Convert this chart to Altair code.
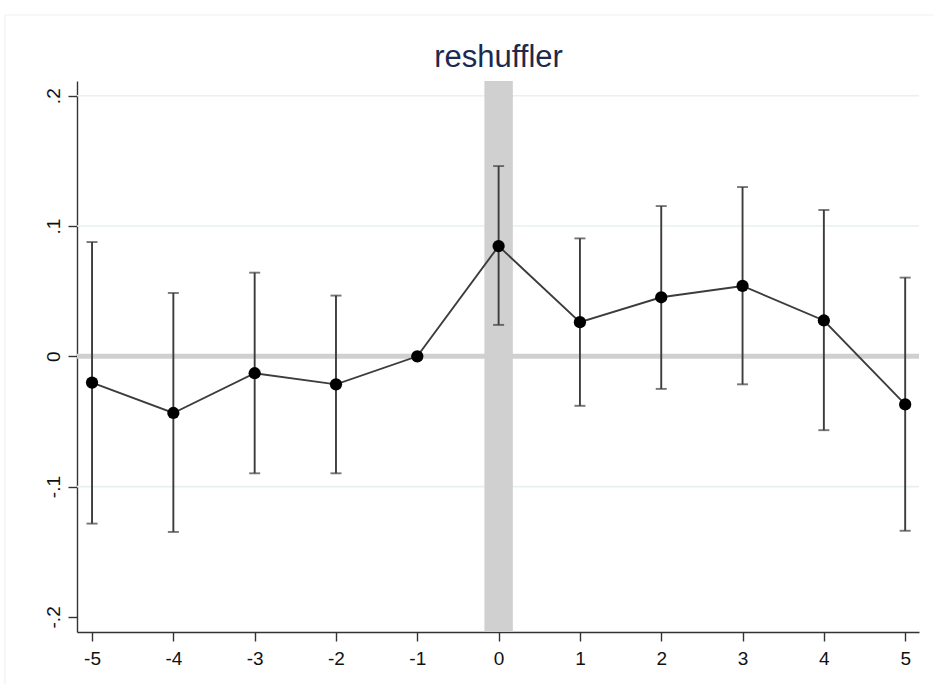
import altair as alt
import pandas as pd

# Event-time coefficients with 95% confidence intervals
event_time = [-5, -4, -3, -2, -1, 0, 1, 2, 3, 4, 5]
coef = [-0.0202, -0.0435, -0.0130, -0.0215, 0.0, 0.0846, 0.0262, 0.0453, 0.0540, 0.0275, -0.0369]
ci_low = [-0.1284, -0.1348, -0.0898, -0.0898, None, 0.0241, -0.0380, -0.0250, -0.0215, -0.0567, -0.1339]
ci_high = [0.0877, 0.0486, 0.0642, 0.0466, None, 0.1460, 0.0905, 0.1153, 0.1299, 0.1123, 0.0604]

# Axis ticks and their Stata-style labels
x_ticks = [-5, -4, -3, -2, -1, 0, 1, 2, 3, 4, 5]
y_ticks = [0.2, 0.1, 0.0, -0.1, -0.2]
y_tick_labels = [".2", ".1", "0", "-.1", "-.2"]
grid_values = [0.2, 0.1, -0.1]

# Shaded treatment window around event time 0
band_start = [-0.175]
band_end = [0.175]

title_text = "reshuffler"

X_DOMAIN = [-5.185, 5.17]
Y_DOMAIN = [-0.2116, 0.2113]
PLOT_W, PLOT_H = 842, 551
LEFT, TOP = 77, 81
INK = "#3c3c3c"
FONT = "Liberation Sans"
LABEL_SIZE = 19

df = pd.DataFrame({"t": event_time, "b": coef, "lo": ci_low, "hi": ci_high})
ci_df = df.dropna()

x_scale = alt.Scale(domain=X_DOMAIN, nice=False, zero=False)
y_scale = alt.Scale(domain=Y_DOMAIN, nice=False, zero=False)

y_label_expr = " : ".join(
    f"abs(datum.value - ({v})) < 1e-9 ? '{lab}'" for v, lab in zip(y_ticks, y_tick_labels)
) + " : ''"

axis_style = dict(
    domainColor="#333333", domainWidth=1.4, tickColor="#333333", tickWidth=1.4,
    tickSize=9, labelFont=FONT, labelFontSize=LABEL_SIZE, labelColor="#111111",
)
x_axis = alt.Axis(
    values=x_ticks, grid=False, title=None,
    labelExpr="toString(datum.value)", labelPadding=8, **axis_style,
)
y_axis = alt.Axis(
    values=y_ticks, grid=False, title=None, labelExpr=y_label_expr,
    labelAngle=270, labelAlign="center", labelBaseline="bottom", labelPadding=5,
    **axis_style,
)

X = lambda field: alt.X(field, scale=x_scale, axis=x_axis)
Y = lambda field: alt.Y(field, scale=y_scale, axis=y_axis)

# faint outer frame of the graph region
frame = alt.Chart(pd.DataFrame({"k": [0]})).mark_rect(
    fill=None, stroke="#eef1f4", strokeWidth=1.2, clip=False
).encode(
    x=alt.value(5 - LEFT), x2=alt.value(945 - LEFT),
    y=alt.value(15 - TOP), y2=alt.value(700 - TOP),
)

grid = alt.Chart(pd.DataFrame({"g": grid_values})).mark_rule(
    color="#e8f0f2", strokeWidth=1.6
).encode(y=Y("g:Q"))

band = alt.Chart(pd.DataFrame({"a": band_start, "z": band_end})).mark_rect(
    color="#d0d0d0"
).encode(
    x=X("a:Q"), x2="z:Q",
    y=alt.value(0), y2=alt.value(PLOT_H),
)

zero_line = alt.Chart(pd.DataFrame({"z": [0.0]})).mark_rule(
    color="#d0d0d0", strokeWidth=5
).encode(y=Y("z:Q"))

bars = alt.Chart(ci_df).mark_rule(color=INK, strokeWidth=1.9).encode(
    x=X("t:Q"), y=Y("lo:Q"), y2="hi:Q"
)
cap_lo = alt.Chart(ci_df).mark_tick(
    color=INK, orient="horizontal", size=11, thickness=1.9
).encode(x=X("t:Q"), y=Y("lo:Q"))
cap_hi = alt.Chart(ci_df).mark_tick(
    color=INK, orient="horizontal", size=11, thickness=1.9
).encode(x=X("t:Q"), y=Y("hi:Q"))

line = alt.Chart(df).mark_line(color=INK, strokeWidth=1.9).encode(
    x=X("t:Q"), y=Y("b:Q")
)
points = alt.Chart(df).mark_point(
    filled=True, color="#000000", opacity=1, size=150, shape="circle"
).encode(x=X("t:Q"), y=Y("b:Q"))

title = alt.Chart(pd.DataFrame({"label": [title_text]})).mark_text(
    font=FONT, fontSize=31, color="#1b2a4e", align="center",
    baseline="alphabetic", clip=False
).encode(
    text="label:N", x=alt.value(498.5 - LEFT), y=alt.value(67 - TOP)
)

chart = alt.layer(
    frame, grid, band, zero_line, bars, cap_lo, cap_hi, line, points, title
).properties(
    width=PLOT_W, height=PLOT_H,
    autosize=alt.AutoSizeParams(type="none"),
    padding={"left": LEFT, "top": TOP, "right": 933 - LEFT - PLOT_W, "bottom": 684 - TOP - PLOT_H},
    background="white",
).configure_view(stroke=None)

chart.save("out.html", embed_options={"renderer": "svg", "actions": False})
